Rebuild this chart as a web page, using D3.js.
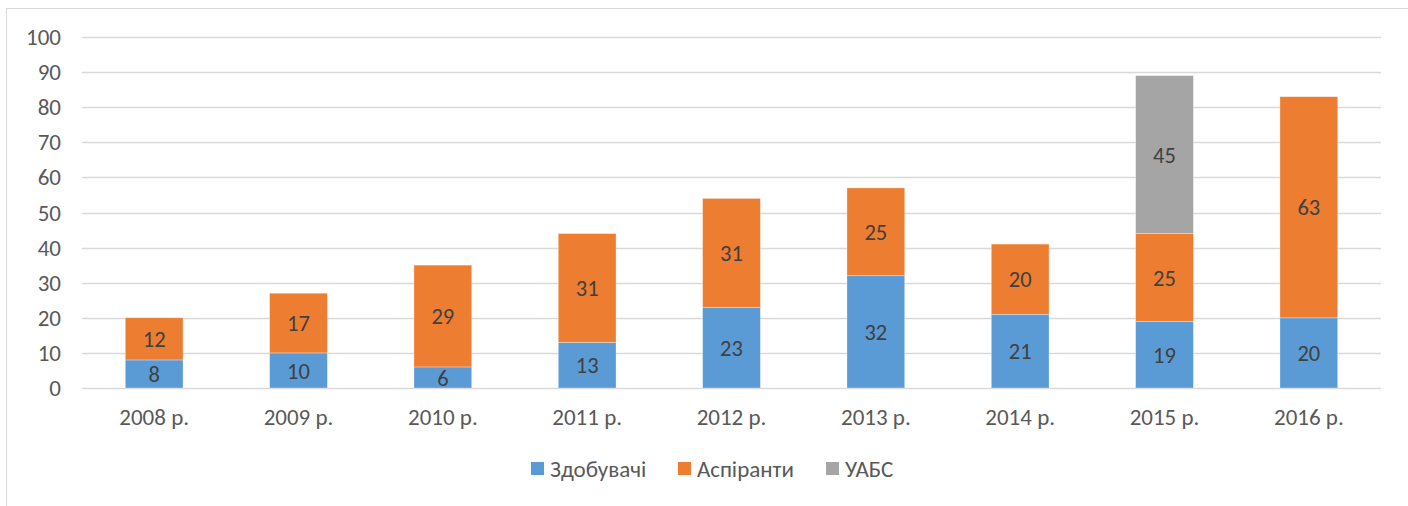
<!DOCTYPE html>
<html>
<head>
<meta charset="utf-8">
<script src="https://cdn.jsdelivr.net/npm/d3@7"></script>
<style>
  body { margin: 0; background: #fff; }
  text { font-family: Carlito, Lato, "Open Sans", sans-serif; }
</style>
</head>
<body>
<script>
const years = ['2008 р.', '2009 р.', '2010 р.', '2011 р.', '2012 р.', '2013 р.', '2014 р.', '2015 р.', '2016 р.']
const seriesNames = ['Здобувачі', 'Аспіранти', 'УАБС']
const zdobuvachi = [8, 10, 6, 13, 23, 32, 21, 19, 20]
const aspiranty = [12, 17, 29, 31, 31, 25, 20, 25, 63]
const uabs = [0, 0, 0, 0, 0, 0, 0, 45, 0]
const yTicks = [0, 10, 20, 30, 40, 50, 60, 70, 80, 90, 100]
const colors = ['#5b9bd5', '#ed7d31', '#a5a5a5']

const width = 1408
const height = 506
const margin = {top: 37, right: 27, bottom: 118, left: 82}

const svg = d3.select('body')
    .append('svg')
    .attr('width', width)
    .attr('height', height)

// chart frame
svg.append('path')
    .attr('d', `M6.5,${height} V8.5 H${width}`)
    .attr('fill', 'none')
    .attr('stroke', '#d9d9d9')
    .attr('stroke-width', 1)

const x = d3.scaleBand()
    .domain(years)
    .range([margin.left, width - margin.right])
    .paddingInner(0.6)
    .paddingOuter(0.3)

const y = d3.scaleLinear()
    .domain([0, 100])
    .range([height - margin.bottom, margin.top])

const rows = years.map((yr, i) => ({
    year: yr,
    'Здобувачі': zdobuvachi[i],
    'Аспіранти': aspiranty[i],
    'УАБС': uabs[i]
}))

const stacked = d3.stack().keys(seriesNames)(rows)

// gridlines
svg.append('g')
    .selectAll('line')
    .data(yTicks)
    .enter()
    .append('line')
    .attr('x1', margin.left)
    .attr('x2', width - margin.right)
    .attr('y1', d => Math.round(y(d)) + 0.5)
    .attr('y2', d => Math.round(y(d)) + 0.5)
    .attr('stroke', '#d9d9d9')
    .attr('stroke-width', 1.5)

// y tick labels
svg.append('g')
    .selectAll('text')
    .data(yTicks)
    .enter()
    .append('text')
    .attr('x', 61)
    .attr('y', d => y(d))
    .attr('dy', '0.35em')
    .attr('text-anchor', 'end')
    .attr('fill', '#595959')
    .attr('font-size', 23)
    .text(d => d)

// x labels
svg.append('g')
    .selectAll('text')
    .data(years)
    .enter()
    .append('text')
    .attr('x', d => x(d) + x.bandwidth() / 2)
    .attr('y', y(0) + 37)
    .attr('text-anchor', 'middle')
    .attr('fill', '#595959')
    .attr('font-size', 23)
    .text(d => d)

// bars
const layers = svg.append('g')
    .selectAll('g')
    .data(stacked)
    .enter()
    .append('g')
    .attr('fill', (d, i) => colors[i])

layers.selectAll('rect')
    .data(d => d.filter(p => p[1] > p[0]))
    .enter()
    .append('rect')
    .attr('x', d => x(d.data.year))
    .attr('width', x.bandwidth())
    .attr('y', d => y(d[1]))
    .attr('height', d => y(d[0]) - y(d[1]))
    .attr('stroke', '#fff')
    .attr('stroke-opacity', 0.4)
    .attr('stroke-width', 0.75)

layers.selectAll('text')
    .data(d => d.filter(p => p[1] > p[0]))
    .enter()
    .append('text')
    .attr('x', d => x(d.data.year) + x.bandwidth() / 2)
    .attr('y', d => (y(d[0]) + y(d[1])) / 2)
    .attr('dy', '0.36em')
    .attr('text-anchor', 'middle')
    .attr('fill', '#404040')
    .attr('font-size', 22.5)
    .text(d => d[1] - d[0])

// legend
const legendX = [531, 678, 826]
const legend = svg.append('g')
    .selectAll('g')
    .data(seriesNames)
    .enter()
    .append('g')
    .attr('transform', (d, i) => `translate(${legendX[i]}, 462)`)

legend.append('rect')
    .attr('width', 13)
    .attr('height', 13)
    .attr('fill', (d, i) => colors[i])

legend.append('text')
    .attr('x', 19)
    .attr('y', 6.5)
    .attr('dy', '0.36em')
    .attr('fill', '#595959')
    .attr('font-size', 23)
    .text(d => d)
</script>
</body>
</html>
